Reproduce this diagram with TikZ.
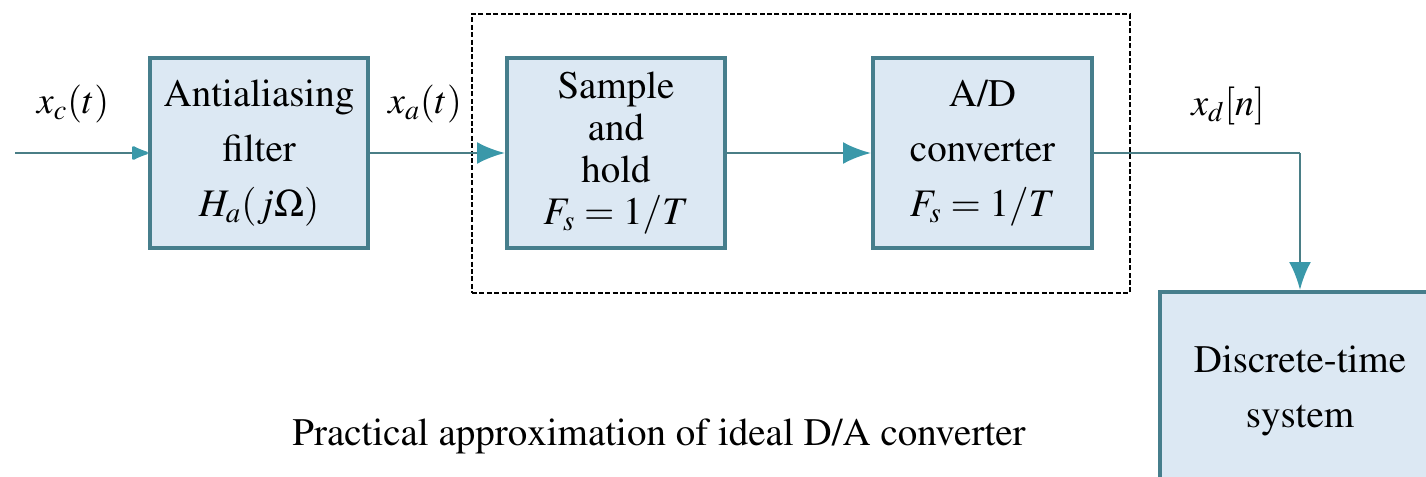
\documentclass[tikz,border=0pt]{standalone}
\usepackage[T1]{fontenc}
\usepackage{mathptmx}
\usetikzlibrary{arrows.meta}
\definecolor{boxfill}{HTML}{DCE8F3}
\definecolor{boxedge}{HTML}{467E8C}
\definecolor{wire}{HTML}{4A7E86}
\definecolor{tipcol}{HTML}{3A98A9}
\tikzset{
  blockbox/.style={draw=boxedge, fill=boxfill, line width=2pt,
    minimum width=109pt, minimum height=95pt, align=center, inner sep=0pt},
  wirearrow/.style={draw=wire, line width=1.4pt,
    -{Latex[length=14pt,width=11pt,color=tipcol]}},
  smallarrow/.style={draw=wire, line width=1.4pt,
    -{Latex[length=10pt,width=8pt,round,color=tipcol]}},
  plainwire/.style={draw=wire, line width=1.4pt},
  dashbox/.style={draw=black, line width=1pt, dash pattern=on 2.5pt off 1.2pt,
    minimum width=329pt, minimum height=139.5pt, inner sep=0pt},
  siglabel/.style={font=\fontsize{19}{22}\selectfont},
  txt3/.style={font=\fontsize{19.5}{27.5}\selectfont},
  txt4/.style={font=\fontsize{19.5}{21}\selectfont},
}
\begin{document}
\begin{tikzpicture}[x=0.5pt,y=-0.5pt]
\useasboundingbox (0,0) rectangle (1426,477);
\clip (0,0) rectangle (1426,477);

% processing blocks
\node[blockbox, txt3] (aaf) at (259,153) {Antialiasing\\filter\\$H_a(j\Omega)$};
\node[dashbox] (pract) at (801,153.5) {};
\node[blockbox, txt4] (sh) at (616,153) {Sample\\and\\hold\\$F_s = 1/T$};
\node[blockbox, txt3, minimum width=109.5pt] (adc) at (982.5,153) {A/D\\converter\\$F_s = 1/T$};
\node[blockbox, txt3, minimum width=140pt, text depth=0pt] (dts) at (1300,387) {Discrete-time\\system};

% signal labels
\node[siglabel] (xc) at (73,104) {$x_c(t)$};
\node[siglabel] (xa) at (425,104) {$x_a(t)$};
\node[siglabel] (xd) at (1228,106) {$x_d[n]$};

% caption
\node[font=\fontsize{19.5}{22}\selectfont] (cap) at (659,436) {Practical approximation of ideal D/A converter};

% connectors
\coordinate (in) at (15,153);
\coordinate (turn) at (1300,153);
\draw[smallarrow] (in) -- (aaf.west);
\draw[wirearrow] (aaf.east) -- (sh.west);
\draw[wirearrow] (sh.east) -- (adc.west);
\draw[plainwire] (adc.east) -- (turn);
\draw[wirearrow] (turn) -- (dts.north);
\end{tikzpicture}
\end{document}
